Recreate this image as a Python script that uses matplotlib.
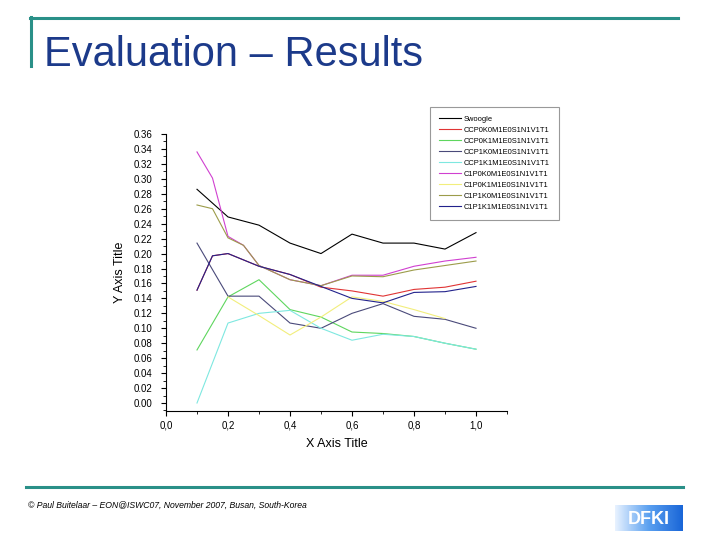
import numpy as np
import matplotlib
matplotlib.use("Agg")
import matplotlib.pyplot as plt
from matplotlib.ticker import MultipleLocator, FuncFormatter

plt.rcParams['font.family'] = ['Liberation Sans', 'DejaVu Sans']

# --- data ---
X = [0.1, 0.2, 0.3, 0.4, 0.5, 0.6, 0.7, 0.8, 0.9, 1.0]
X_KINK = [0.1, 0.15, 0.2, 0.3, 0.4, 0.5, 0.6, 0.7, 0.8, 0.9, 1.0]
X_OLIVE = [0.1, 0.15, 0.2, 0.25, 0.3, 0.4, 0.5, 0.6, 0.7, 0.8, 0.9, 1.0]

swoogle = [0.286, 0.249, 0.238, 0.214, 0.200, 0.226, 0.214, 0.214, 0.206, 0.228]
ccp0k0 = [0.151, 0.197, 0.200, 0.183, 0.172, 0.155, 0.150, 0.143, 0.152, 0.155, 0.163]
ccp0k1 = [0.071, 0.142, 0.165, 0.125, 0.115, 0.095, 0.093, 0.089, 0.080, 0.072]
ccp1k0 = [0.214, 0.143, 0.143, 0.107, 0.100, 0.120, 0.133, 0.116, 0.112, 0.100]
ccp1k1 = [0.000, 0.107, 0.120, 0.124, 0.100, 0.084, 0.092, 0.089, 0.080, 0.072]
c1p0k0 = [0.336, 0.301, 0.223, 0.211, 0.184, 0.165, 0.157, 0.171, 0.171, 0.183, 0.190, 0.195]
c1p0k1 = [np.nan, 0.142, 0.117, 0.091, 0.115, 0.142, 0.136, 0.125, 0.113, np.nan]
c1p1k0 = [0.265, 0.260, 0.221, 0.211, 0.184, 0.165, 0.157, 0.170, 0.169, 0.178, 0.184, 0.190]
c1p1k1 = [0.151, 0.197, 0.200, 0.183, 0.172, 0.156, 0.140, 0.134, 0.148, 0.149, 0.156]

labels = ["Swoogle", "CCP0K0M1E0S1N1V1T1", "CCP0K1M1E0S1N1V1T1",
          "CCP1K0M1E0S1N1V1T1", "CCP1K1M1E0S1N1V1T1", "C1P0K0M1E0S1N1V1T1",
          "C1P0K1M1E0S1N1V1T1", "C1P1K0M1E0S1N1V1T1", "C1P1K1M1E0S1N1V1T1"]
colors = ["#000000", "#e03434", "#5ed65e", "#4a4a7a", "#7ee8e0",
          "#d040d0", "#f2ee7c", "#9c9c4a", "#22228c"]

series = [(X, swoogle), (X_KINK, ccp0k0), (X, ccp0k1), (X, ccp1k0), (X, ccp1k1),
          (X_OLIVE, c1p0k0), (X, c1p0k1), (X_OLIVE, c1p1k0), (X_KINK, c1p1k1)]

TEAL = "#2a9088"
TITLE_BLUE = "#1c3a8a"

fig = plt.figure(figsize=(7.2, 5.4), dpi=100)

# --- slide decoration ---
fig.add_artist(plt.Line2D([30 / 720, 678 / 720], [1 - 18 / 540] * 2, color=TEAL, lw=2.2))
fig.add_artist(plt.Line2D([31 / 720] * 2, [1 - 17 / 540, 1 - 66 / 540], color=TEAL, lw=2.2))
fig.add_artist(plt.Line2D([26 / 720, 683 / 720], [1 - 487 / 540] * 2, color=TEAL, lw=2.2))
fig.text(44 / 720, 1 - 66 / 540, "Evaluation \u2013 Results", color=TITLE_BLUE,
         fontsize=30, ha='left', va='baseline')
fig.text(28 / 720, 1 - 505 / 540,
         "\u00a9 Paul Buitelaar \u2013 EON@ISWC07, November 2007, Busan, South-Korea",
         fontsize=6.2, style='italic', ha='left', va='center')

# DFKI logo (rough)
lax = fig.add_axes([615 / 720, 1 - 531 / 540, 68 / 720, 26 / 540])
grad = np.linspace(0, 1, 100)[None, :]
lax.imshow(grad, cmap=matplotlib.colors.LinearSegmentedColormap.from_list(
    "dfki", ["#e8f2ff", "#5aa0f0", "#1a66d8"]), aspect='auto', extent=[0, 1, 0, 1])
lax.text(0.5, 0.45, "DFKI", color='white', fontsize=13, fontweight='bold',
         ha='center', va='center')
lax.set_axis_off()

# --- chart ---
ax = fig.add_axes([166 / 720, 1 - 411 / 540, 341 / 720, 277 / 540])
lines = []
for (xs, ys), c, lab in zip(series, colors, labels):
    ln, = ax.plot(xs, ys, color=c, lw=0.8, label=lab)
    lines.append(ln)

ax.set_xlim(0, 1.1)
ax.set_ylim(-0.0107, 0.36)
for s in ['top', 'right']:
    ax.spines[s].set_visible(False)
for s in ['left', 'bottom']:
    ax.spines[s].set_linewidth(0.8)

ax.xaxis.set_major_locator(MultipleLocator(0.2))
ax.xaxis.set_minor_locator(MultipleLocator(0.1))
ax.yaxis.set_major_locator(MultipleLocator(0.02))
ax.yaxis.set_minor_locator(MultipleLocator(0.01))
ax.xaxis.set_major_formatter(FuncFormatter(lambda v, p: f"{v:.1f}".replace('.', ',')))
ax.yaxis.set_major_formatter(FuncFormatter(lambda v, p: f"{v:.2f}"))
ax.tick_params(which='major', direction='out', length=3.5, width=0.8, labelsize=7)
ax.tick_params(axis='y', which='major', pad=6)
ax.tick_params(axis='x', which='major', pad=3)
ax.tick_params(which='minor', direction='out', length=2, width=0.6)
ax.set_xlabel("X Axis Title", fontsize=9, labelpad=6)
ax.set_ylabel("Y Axis Title", fontsize=9, labelpad=6)

leg = fig.legend(handles=lines, loc='upper left',
                 bbox_to_anchor=(426 / 720, 1 - 103 / 540),
                 fontsize=5.4, handlelength=3.0, labelspacing=0.5,
                 borderpad=1.2, handletextpad=0.3, frameon=True, fancybox=False)
leg.get_frame().set_edgecolor('#808080')
leg.get_frame().set_linewidth(0.8)

fig.savefig("out.png", dpi=100)
